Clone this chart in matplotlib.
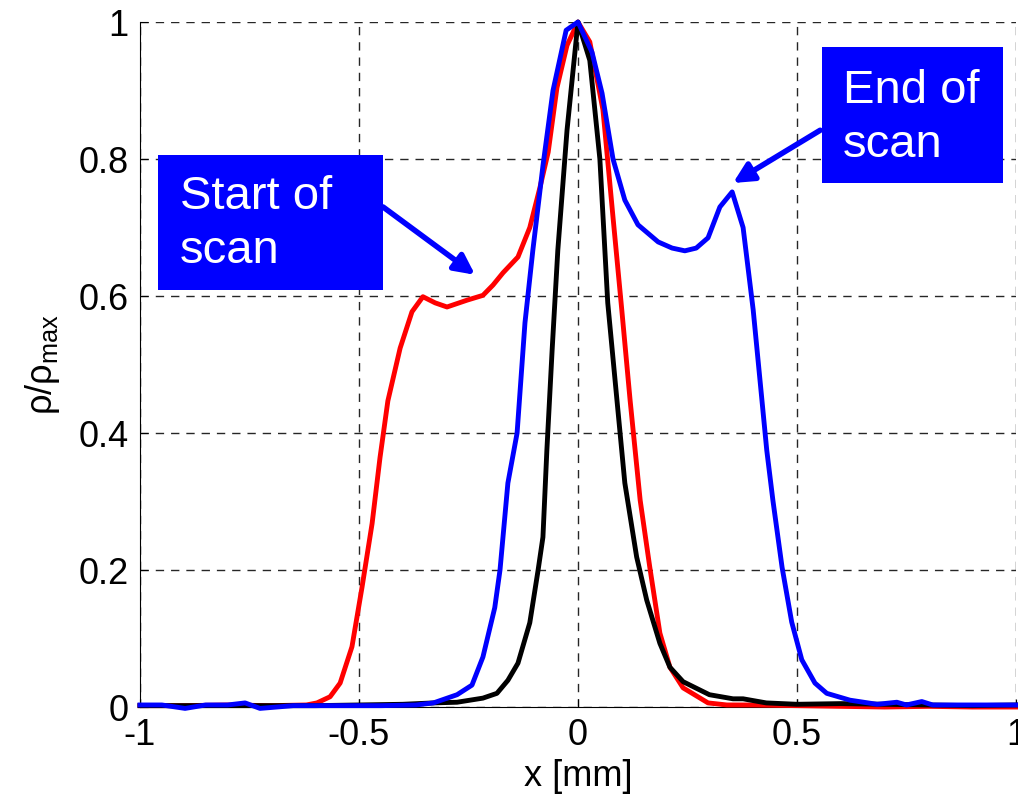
import matplotlib
matplotlib.use("Agg")
import matplotlib.pyplot as plt
from matplotlib.patches import Rectangle

plt.rcParams['font.family'] = ['Liberation Sans', 'DejaVu Sans']
plt.rcParams['mathtext.fontset'] = 'custom'
plt.rcParams['mathtext.rm'] = 'Liberation Sans'
plt.rcParams['mathtext.it'] = 'Liberation Sans'

# start of scan (red)
x_start = [-1.0, -0.9, -0.8, -0.7, -0.62, -0.596, -0.566, -0.543, -0.516, -0.493,
           -0.470, -0.452, -0.434, -0.406, -0.379, -0.354, -0.326, -0.299, -0.253,
           -0.217, -0.194, -0.171, -0.137, -0.11, -0.087, -0.068, -0.048, -0.025,
           0.0, 0.027, 0.057, 0.08, 0.10, 0.119, 0.142, 0.164, 0.187, 0.21, 0.24,
           0.297, 0.34, 0.4, 0.5, 0.6, 0.7, 0.8, 0.9, 1.0]
y_start = [0.002, 0.002, 0.003, 0.002, 0.003, 0.006, 0.015, 0.035, 0.088, 0.175,
           0.268, 0.364, 0.447, 0.524, 0.577, 0.599, 0.590, 0.584, 0.594,
           0.601, 0.616, 0.634, 0.657, 0.70, 0.758, 0.81, 0.904, 0.966,
           1.0, 0.971, 0.872, 0.715, 0.58, 0.448, 0.302, 0.204, 0.108, 0.058, 0.028,
           0.006, 0.003, 0.003, 0.002, 0.001, 0.0, 0.001, 0.0, 0.0]

# reference profile (black)
x_ref = [-1.0, -0.9, -0.8, -0.7, -0.6, -0.5, -0.4, -0.33, -0.276, -0.217, -0.185,
         -0.16, -0.137, -0.11, -0.091, -0.08, -0.071, -0.059, -0.046, -0.025, 0.0,
         0.027, 0.05, 0.068, 0.089, 0.107, 0.134, 0.157, 0.187, 0.21, 0.24, 0.30,
         0.354, 0.377, 0.43, 0.5, 0.6, 0.7, 0.8, 0.9, 1.0]
y_ref = [0.002, 0.002, 0.002, 0.002, 0.002, 0.003, 0.004, 0.006, 0.007, 0.013, 0.02,
         0.039, 0.064, 0.123, 0.20, 0.248, 0.375, 0.521, 0.667, 0.842, 1.0,
         0.944, 0.80, 0.59, 0.448, 0.327, 0.219, 0.156, 0.093, 0.058, 0.037, 0.018,
         0.012, 0.012, 0.006, 0.004, 0.005, 0.004, 0.003, 0.002, 0.003]

# end of scan (blue)
x_end = [-1.0, -0.95, -0.897, -0.85, -0.8, -0.76, -0.726, -0.65, -0.55, -0.45, -0.37,
         -0.33, -0.276, -0.242, -0.217, -0.19, -0.178, -0.16, -0.139, -0.121, -0.103,
         -0.08, -0.057, -0.027, 0.0, 0.032, 0.055, 0.08, 0.107, 0.137, 0.183, 0.215,
         0.244, 0.27, 0.297, 0.324, 0.352, 0.377, 0.40, 0.42, 0.431, 0.445, 0.466,
         0.488, 0.511, 0.541, 0.568, 0.621, 0.683, 0.728, 0.75, 0.785, 0.81, 0.9, 1.0]
y_end = [0.003, 0.003, -0.002, 0.003, 0.003, 0.006, -0.002, 0.002, 0.002, 0.002, 0.003,
         0.006, 0.018, 0.032, 0.073, 0.145, 0.20, 0.327, 0.40, 0.561, 0.667,
         0.79, 0.90, 0.988, 1.0, 0.956, 0.896, 0.80, 0.74, 0.704, 0.679, 0.670,
         0.666, 0.67, 0.685, 0.73, 0.752, 0.70, 0.58, 0.448, 0.375, 0.302, 0.204,
         0.124, 0.069, 0.035, 0.020, 0.010, 0.004, 0.007, 0.003, 0.008, 0.003, 0.003, 0.003]

x_ticks = [-1, -0.5, 0, 0.5, 1]
x_ticklabels = ["-1", "-0.5", "0", "0.5", "1"]
y_ticks = [0, 0.2, 0.4, 0.6, 0.8, 1]
y_ticklabels = ["0", "0.2", "0.4", "0.6", "0.8", "1"]

fig = plt.figure(figsize=(10.18, 7.98), dpi=100)
ax = fig.add_axes([0.1375, 0.114, 0.8605, 0.8584])

ax.plot(x_start, y_start, color="red", lw=3.5, clip_on=False, zorder=3)
ax.plot(x_ref, y_ref, color="black", lw=3.5, clip_on=False, zorder=4)
ax.plot(x_end, y_end, color="blue", lw=3.5, clip_on=False, zorder=5)

ax.set_xlim(-1, 1)
ax.set_ylim(0, 1)
ax.set_xticks(x_ticks)
ax.set_xticklabels(x_ticklabels)
ax.set_yticks(y_ticks)
ax.set_yticklabels(y_ticklabels)
ax.tick_params(direction="in", length=6, labelsize=26, pad=8)
ax.grid(True, color="0.15", linestyle=(0, (6, 5)), lw=1.0)
ax.spines["top"].set_visible(False)
ax.spines["right"].set_visible(False)
ax.set_xlabel("x [mm]", fontsize=26, labelpad=4)
ax.set_ylabel(r"$\mathrm{\rho/\rho_{max}}$", fontsize=26, labelpad=12)

# annotation boxes
ax.add_patch(Rectangle((-0.959, 0.609), 0.514, 0.197, facecolor="#0000ff",
                       edgecolor="none", zorder=6, clip_on=False))
ax.text(-0.909, 0.705, "Start of\nscan", color="white", fontsize=34,
        va="center", ha="left", linespacing=1.3, zorder=7)
ax.annotate("", xy=(-0.235, 0.631), xytext=(-0.445, 0.730),
            arrowprops=dict(arrowstyle="-|>", color="#0000ff", lw=4,
                            mutation_scale=30, shrinkA=0, shrinkB=0), zorder=7)

ax.add_patch(Rectangle((0.557, 0.765), 0.413, 0.199, facecolor="#0000ff",
                       edgecolor="none", zorder=6, clip_on=False))
ax.text(0.605, 0.86, "End of\nscan", color="white", fontsize=34,
        va="center", ha="left", linespacing=1.3, zorder=7)
ax.annotate("", xy=(0.354, 0.765), xytext=(0.553, 0.842),
            arrowprops=dict(arrowstyle="-|>", color="#0000ff", lw=4,
                            mutation_scale=30, shrinkA=0, shrinkB=0), zorder=7)

fig.savefig("out.png", dpi=100)
